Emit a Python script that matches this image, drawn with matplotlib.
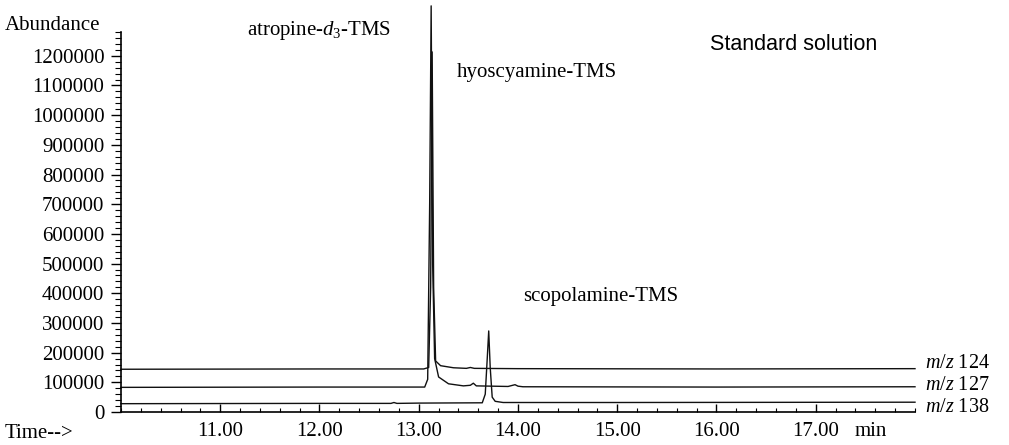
import matplotlib
matplotlib.use("Agg")
import matplotlib.pyplot as plt
from matplotlib.ticker import MultipleLocator

plt.rcParams["font.family"] = "Liberation Serif"
plt.rcParams["mathtext.fontset"] = "custom"
plt.rcParams["mathtext.rm"] = "Liberation Serif"
plt.rcParams["mathtext.it"] = "Liberation Serif:italic"

# chromatogram traces, vertices (min, abundance)
t_124 = [10.0, 12.0, 13.05, 13.10, 13.12, 13.135, 13.15, 13.17, 13.22, 13.35,
         13.48, 13.52, 13.56, 14.0, 16.0, 18.0]
a_124 = [144000, 145000, 145000, 150000, 420000, 1213000, 420000, 172000, 156000, 149000,
         147000, 150000, 147000, 146000, 145000, 146000]

t_127 = [10.0, 12.0, 13.06, 13.09, 13.11, 13.125, 13.14, 13.16, 13.20, 13.30,
         13.45, 13.52, 13.55, 13.58, 13.90, 13.97, 14.0, 14.05, 16.0, 18.0]
a_127 = [83000, 84000, 84000, 110000, 700000, 1368000, 500000, 180000, 118000, 95000,
         88000, 90000, 97000, 88000, 86000, 92000, 87000, 85000, 84000, 85000]

t_138 = [10.0, 12.0, 12.72, 12.75, 12.78, 13.0, 13.64, 13.67, 13.69, 13.705,
         13.72, 13.74, 13.77, 13.85, 15.0, 18.0]
a_138 = [28000, 29000, 29000, 32000, 29000, 30000, 31000, 60000, 180000, 273000,
         150000, 50000, 36000, 32000, 32000, 33000]

traces = [("124", t_124, a_124), ("127", t_127, a_127), ("138", t_138, a_138)]
label_y = [364, 386, 408]  # pixel rows of the m/z labels

x_ticks = [11, 12, 13, 14, 15, 16, 17]
y_ticks = list(range(0, 1200001, 100000))

FS = 15
W, H = 1009, 445
fig = plt.figure(figsize=(W / 100, H / 100), dpi=100)
ax = fig.add_axes([121 / W, 1 - 412 / H, (915 - 121) / W, (412 - 32) / H])

for (name, t, a), ly in zip(traces, label_y):
    ax.plot(t, a, color="#111111", lw=1.0, clip_on=False)
    fig.text(925 / W, 1 - ly / H, f"$m/z$ {name}", fontsize=14.5, va="center", ha="left")

ax.set_xlim(10.0, 18.0)
ax.set_ylim(0, 1280000)
ax.spines["top"].set_visible(False)
ax.spines["right"].set_visible(False)
ax.spines["left"].set_linewidth(1.2)
ax.spines["bottom"].set_linewidth(1.2)

ax.set_xticks(x_ticks)
ax.set_xticklabels([f"{v:.2f}" for v in x_ticks])
ax.xaxis.set_minor_locator(MultipleLocator(0.2))
ax.set_yticks(y_ticks)
ax.set_yticklabels([str(v) for v in y_ticks])
ax.yaxis.set_minor_locator(MultipleLocator(20000))

ax.tick_params(axis="x", which="major", direction="in", length=6, width=1, labelsize=FS, pad=7)
ax.tick_params(axis="x", which="minor", direction="in", length=3, width=0.8)
ax.tick_params(axis="y", which="major", direction="out", length=7, width=1, labelsize=FS, pad=5)
ax.tick_params(axis="y", which="minor", direction="out", length=4, width=0.8)

fig.text(5 / W, 1 - 25 / H, "Abundance", fontsize=FS, va="center", ha="left")
fig.text(5 / W, 1 - 433 / H, "Time-->", fontsize=FS, va="center", ha="left")
fig.text(871 / W, 1 - 432 / H, "min", fontsize=FS, va="center", ha="center")

fig.text(247 / W, 1 - 30 / H, r"atropine-$d_{\mathit{3}}$-TMS", fontsize=FS, va="center", ha="left")
fig.text(457 / W, 1 - 72 / H, "hyoscyamine-TMS", fontsize=FS, va="center", ha="left")
fig.text(523 / W, 1 - 297 / H, "scopolamine-TMS", fontsize=FS, va="center", ha="left")
fig.text(710 / W, 1 - 45 / H, "Standard solution", fontsize=15.5, family="Liberation Sans",
         va="center", ha="left")

fig.savefig("out.png", dpi=100)
